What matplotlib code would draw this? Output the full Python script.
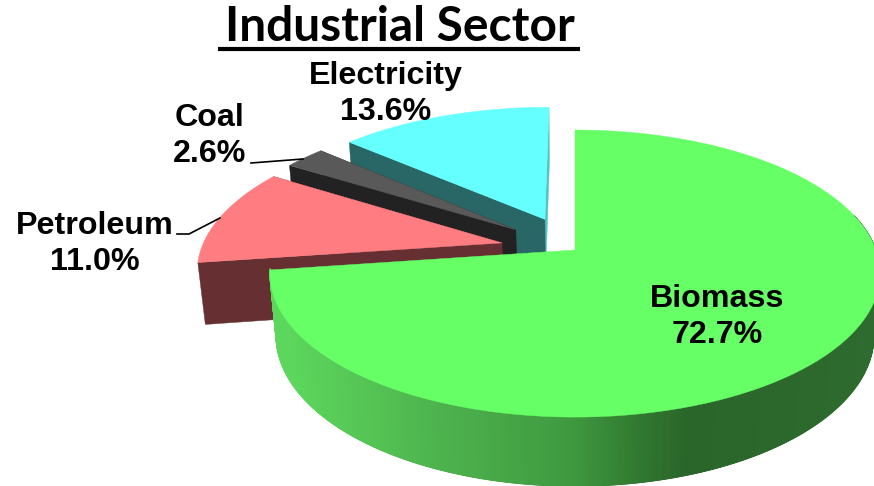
import numpy as np
import matplotlib
matplotlib.use("Agg")
import matplotlib.pyplot as plt

categories = ["Biomass", "Petroleum", "Coal", "Electricity"]
values = [72.7, 11.0, 2.6, 13.6]
explode = [0, 0.25, 0.25, 0.25]

top_colors = ["#66FF66", "#FF7C80", "#595959", "#66FFFF"]
side_colors = ["#3F9A3F", "#663033", "#222222", "#296666"]

# pie geometry, in pixels of the picture
cx, cy = 575, 250
a, b, c = 301, 139.7, 62.5
k, m = 0.164, 0.02


def project(u, v, z=0.0):
    # perspective view of the tilted disc, z = 1 is the bottom of the pie
    w = 1 + k * v + m * z
    return cx + a * u / w, cy - (b * v - c * z) / w


def arc(t0, t1, off, z=0.0, n=120):
    t = np.radians(np.linspace(t0, t1, n))
    return project(off[0] + np.sin(t), off[1] + np.cos(t), z)


def radial_face(t, off, color):
    r = np.radians(t)
    x0, y0 = project(off[0], off[1])
    x1, y1 = project(off[0] + np.sin(r), off[1] + np.cos(r))
    x2, y2 = project(off[0] + np.sin(r), off[1] + np.cos(r), 1)
    x3, y3 = project(off[0], off[1], 1)
    ax.fill([x0, x1, x2, x3], [y0, y1, y2, y3], color=color, lw=0.3)


fig = plt.figure(figsize=(8.74, 4.86), dpi=100)
ax = fig.add_axes([0, 0, 1, 1])
ax.set_xlim(0, 874)
ax.set_ylim(486, 0)
ax.axis("off")

edges = np.concatenate([[0], np.cumsum(values)]) / np.sum(values) * 360

# back slices first, biomass comes last because it is in front
for i in reversed(range(len(values))):
    t0, t1 = edges[i], edges[i + 1]
    mid = np.radians((t0 + t1) / 2)
    off = (explode[i] * np.sin(mid), explode[i] * np.cos(mid))
    if i > 0:
        radial_face(t1, off, "#4FC4C4" if i == 3 else side_colors[i])
        radial_face(t0, off, side_colors[i])
    else:
        # shaded rim of the biomass slice, the back part of it is hidden anyway
        stop_x = [290, 449, 568, 648, 688, 874]
        stop_r = [92, 76, 63, 47, 42, 46]
        stop_g = [214, 176, 154, 116, 101, 107]
        steps = np.linspace(75, t1, 300)
        for s0, s1 in zip(steps[:-1], steps[1:]):
            x_t, y_t = arc(s0, s1 + 0.6, off, 0, 4)
            x_b, y_b = arc(s0, s1 + 0.6, off, 1, 4)
            xm = x_t.mean()
            col = (np.interp(xm, stop_x, stop_r) / 255,
                   np.interp(xm, stop_x, stop_g) / 255,
                   np.interp(xm, stop_x, stop_r) / 255)
            ax.fill(np.r_[x_t, x_b[::-1]], np.r_[y_t, y_b[::-1]], color=col, lw=0.6)
    x, y = arc(t0, t1, off)
    x0, y0 = project(off[0], off[1])
    ax.fill(np.r_[x0, x], np.r_[y0, y], color=top_colors[i], lw=0.3)

# leader lines
ax.plot([251, 303], [163, 159], color="black", lw=1.2)
ax.plot([177, 189, 220], [234, 234, 218], color="black", lw=1.2)

label_pos = [(717.5, 317), (94.5, 244), (209.5, 136), (385.5, 94)]
for name, val, (lx, ly) in zip(categories, values, label_pos):
    ax.text(lx, ly, f"{name}\n{val:.1f}%", ha="center", va="center", ma="center",
            family="Liberation Sans", weight="bold", fontsize=23.2, color="black",
            linespacing=1.27)

ax.text(400, 27, "Industrial Sector", ha="center", va="center", family="Lato",
        weight="bold", fontsize=34.5, color="black")
ax.plot([218, 580], [49, 49], color="black", lw=3, solid_capstyle="butt")

fig.savefig("out.png", dpi=100)
